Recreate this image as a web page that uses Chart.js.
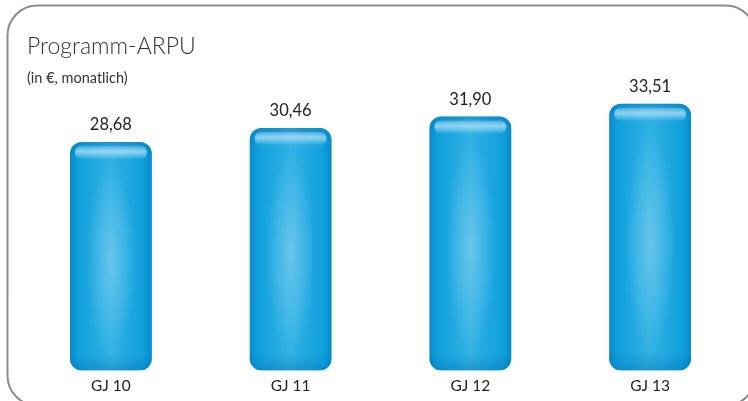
<!DOCTYPE html>
<html>
<head>
<meta charset="utf-8">
<script src="https://cdn.jsdelivr.net/npm/chart.js@4/dist/chart.umd.min.js"></script>
<style>
  html, body { margin: 0; padding: 0; background: #fff; }
  #wrap { width: 748px; height: 401px; }
</style>
</head>
<body>
<div id="wrap"><canvas id="arpuChart" width="748" height="401"></canvas></div>
<script>
// Daten
const titel = 'Programm-ARPU';
const untertitel = '(in €, monatlich)';
const jahre = ['GJ 10', 'GJ 11', 'GJ 12', 'GJ 13'];
const arpu = [28.68, 30.46, 31.90, 33.51];
const yMax = 40;

const fmt = v => v.toFixed(2).replace('.', ',');
const FONT = 'Lato, "Open Sans", sans-serif';

const rahmen = {
  id: 'rahmen',
  beforeDraw(chart) {
    const c = chart.ctx;
    c.save();
    c.fillStyle = '#fff';
    c.fillRect(0, 0, chart.width, chart.height);
    c.beginPath();
    c.roundRect(7.5, 5.5, 748, 400, 30);
    c.strokeStyle = '#8c8c8c';
    c.lineWidth = 2;
    c.stroke();
    c.fillStyle = '#333';
    c.textBaseline = 'middle';
    c.font = '300 23px ' + FONT;
    c.fillText(titel, 27, 47);
    c.font = '14.5px ' + FONT;
    c.fillText(untertitel, 27, 78);
    c.restore();
  },
  afterDatasetsDraw(chart) {
    const c = chart.ctx;
    const meta = chart.getDatasetMeta(0);
    c.save();
    meta.data.forEach((bar, i) => {
      const w = bar.width, l = bar.x - w / 2, top = bar.y, h = bar.base - bar.y;
      // Grundverlauf
      c.save();
      c.beginPath();
      c.roundRect(l, top, w, h, 12);
      c.clip();
      const hg = c.createLinearGradient(l, 0, l + w, 0);
      hg.addColorStop(0, '#0a8aca');
      hg.addColorStop(0.1, '#10a0dc');
      hg.addColorStop(0.5, '#31b1e4');
      hg.addColorStop(0.9, '#10a0dc');
      hg.addColorStop(1, '#0a8aca');
      c.fillStyle = hg;
      c.fillRect(l, top, w, h);
      const vg = c.createLinearGradient(0, top, 0, top + h);
      vg.addColorStop(0, 'rgba(0,100,170,0.35)');
      vg.addColorStop(0.05, 'rgba(0,100,170,0)');
      vg.addColorStop(0.93, 'rgba(0,100,170,0)');
      vg.addColorStop(1, 'rgba(0,90,160,0.3)');
      c.fillStyle = vg;
      c.fillRect(l, top, w, h);
      // weiches Oval in der Mitte
      const cy = top + h * 0.52;
      c.save();
      c.translate(bar.x, cy);
      c.scale(1, (h * 0.42) / (w * 0.3));
      const rg = c.createRadialGradient(0, 0, 0, 0, 0, w * 0.3);
      rg.addColorStop(0, 'rgba(150,215,242,0.55)');
      rg.addColorStop(0.6, 'rgba(120,205,240,0.3)');
      rg.addColorStop(1, 'rgba(120,205,240,0)');
      c.fillStyle = rg;
      c.beginPath();
      c.arc(0, 0, w * 0.3, 0, Math.PI * 2);
      c.fill();
      c.restore();
      c.restore();
      // Glanzstreifen oben
      c.beginPath();
      c.roundRect(l + 5, top + 4, w - 10, 13, 6);
      const lg = c.createLinearGradient(0, top + 4, 0, top + 17);
      lg.addColorStop(0, 'rgba(255,255,255,0.2)');
      lg.addColorStop(0.45, 'rgba(190,232,250,0.7)');
      lg.addColorStop(1, 'rgba(190,232,250,0.05)');
      c.fillStyle = lg;
      c.fill();
      // Wert
      c.fillStyle = '#222';
      c.font = '16.5px ' + FONT;
      c.textAlign = 'center';
      c.textBaseline = 'middle';
      c.fillText(fmt(arpu[i]), bar.x, top - 17);
    });
    c.restore();
  }
};

new Chart(document.getElementById('arpuChart'), {
  type: 'bar',
  data: {
    labels: jahre,
    datasets: [{
      data: arpu,
      backgroundColor: '#1aa3dd',
      borderWidth: 0,
      borderRadius: 12,
      borderSkipped: false,
      barPercentage: 0.455,
      categoryPercentage: 1
    }]
  },
  options: {
    responsive: false,
    animation: false,
    layout: { padding: { top: 52, left: 21, right: 8, bottom: 0 } },
    plugins: { legend: { display: false }, tooltip: { enabled: false } },
    scales: {
      x: {
        grid: { display: false, drawTicks: false },
        border: { display: false },
        ticks: { color: '#222', font: { family: FONT, size: 15.5 }, padding: 6 }
      },
      y: { display: false, min: 0, max: yMax }
    }
  },
  plugins: [rahmen]
});
</script>
</body>
</html>
